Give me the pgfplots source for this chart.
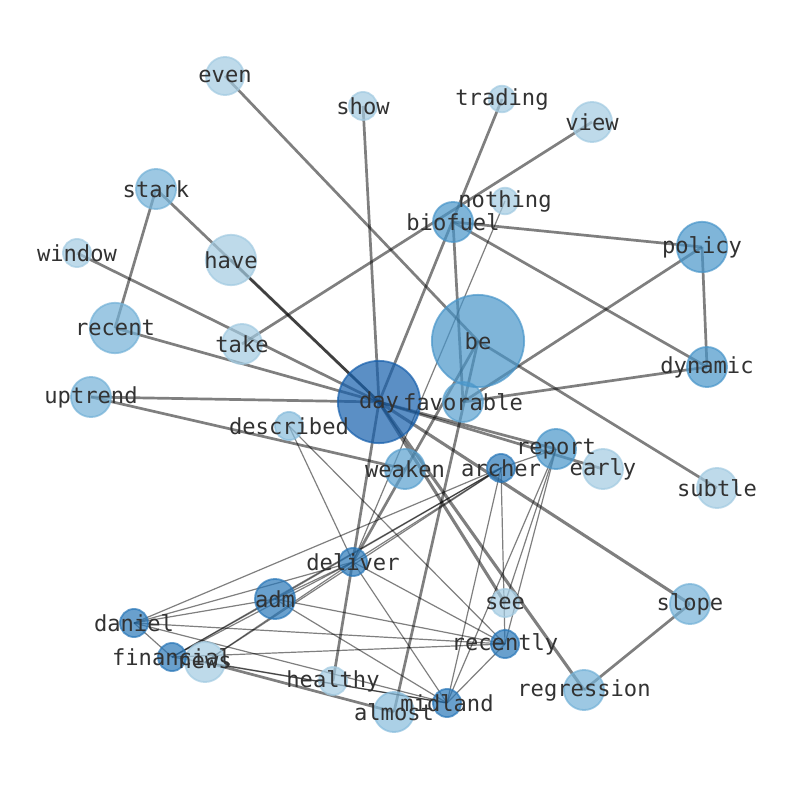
\documentclass[border=0pt]{standalone}
\usepackage{pgfplots}
\pgfplotsset{compat=1.18}
\usepackage{pgfplotstable}
\usepackage{fontspec}
\newfontfamily\lbfont{DejaVu Sans Mono}
\definecolor{lblgray}{RGB}{50,50,50}
\definecolor{gA}{RGB}{162,202,225}
\definecolor{gB}{RGB}{135,188,220}
\definecolor{gC}{RGB}{115,177,215}
\definecolor{gD}{RGB}{88,159,206}
\definecolor{gE}{RGB}{72,149,201}
\definecolor{gF}{RGB}{41,119,184}
\definecolor{gG}{RGB}{22,95,172}

% node positions in pixels (y grows downwards); one table per colour and size
\pgfplotstableread{
name x y
even 225 76
}\nAa
\pgfplotstableread{
name x y
show 363 106
window 77 253
see 505 603
healthy 333 681
}\nAb
\pgfplotstableread{
name x y
trading 502 99
nothing 505 201
}\nAc
\pgfplotstableread{
name x y
view 592 122
take 242 344
early 603 469
subtle 717 488
news 205 662
}\nAd
\pgfplotstableread{
name x y
have 231 260
}\nAe
\pgfplotstableread{
name x y
described 289 426
}\nBa
\pgfplotstableread{
name x y
almost 394 712
}\nBb
\pgfplotstableread{
name x y
stark 156 189
uptrend 91 397
slope 690 604
regression 584 690
}\nCa
\pgfplotstableread{
name x y
recent 115 328
}\nCb
\pgfplotstableread{
name x y
favorable 463 402
weaken 405 469
}\nDa
\pgfplotstableread{
name x y
biofuel 453 222
dynamic 707 367
report 556 449
}\nEa
\pgfplotstableread{
name x y
policy 702 247
}\nEb
\pgfplotstableread{
name x y
be 478 341
}\nEc
\pgfplotstableread{
name x y
archer 501 468
deliver 353 562
daniel 134 623
recently 505 644
financial 172 657
midland 447 703
}\nFa
\pgfplotstableread{
name x y
adm 275 599
}\nFb
\pgfplotstableread{
name x y
day 379 402
}\nGa

\begin{document}
\begin{tikzpicture}
\begin{axis}[
    scale only axis,
    width=794bp, height=790bp,
    xmin=0, xmax=794, ymin=0, ymax=790,
    y dir=reverse,
    hide axis,
    clip=false,
    edge/.style={black, draw opacity=0.5, line width=2.7bp, no markers, forget plot},
    thin edge/.style={black, draw opacity=0.5, line width=1.2bp, no markers, forget plot},
    node dots/.style 2 args={only marks, mark=*, forget plot, mark size=#2,
        mark options={draw=#1, fill=#1, fill opacity=0.7, draw opacity=0.7, line width=1.8bp}},
    node labels/.style={only marks, mark=none, forget plot,
        point meta=explicit symbolic, nodes near coords,
        every node near coord/.append style={anchor=center, inner sep=0pt, text=lblgray,
            font=\lbfont\fontsize{22.2}{24}\selectfont}},
]
\path (axis cs:0,0) rectangle (axis cs:794,790);

% thin edges
\addplot[thin edge] coordinates {(501,468) (353,562)};
\addplot[thin edge] coordinates {(501,468) (275,599)};
\addplot[thin edge] coordinates {(501,468) (134,623)};
\addplot[thin edge] coordinates {(501,468) (172,657)};
\addplot[thin edge] coordinates {(501,468) (505,644)};
\addplot[thin edge] coordinates {(501,468) (447,703)};
\addplot[thin edge] coordinates {(353,562) (275,599)};
\addplot[thin edge] coordinates {(353,562) (134,623)};
\addplot[thin edge] coordinates {(353,562) (172,657)};
\addplot[thin edge] coordinates {(353,562) (505,644)};
\addplot[thin edge] coordinates {(353,562) (447,703)};
\addplot[thin edge] coordinates {(275,599) (134,623)};
\addplot[thin edge] coordinates {(275,599) (172,657)};
\addplot[thin edge] coordinates {(275,599) (505,644)};
\addplot[thin edge] coordinates {(275,599) (447,703)};
\addplot[thin edge] coordinates {(134,623) (172,657)};
\addplot[thin edge] coordinates {(134,623) (505,644)};
\addplot[thin edge] coordinates {(134,623) (447,703)};
\addplot[thin edge] coordinates {(172,657) (505,644)};
\addplot[thin edge] coordinates {(172,657) (447,703)};
\addplot[thin edge] coordinates {(505,644) (447,703)};
\addplot[thin edge] coordinates {(289,426) (353,562)};
\addplot[thin edge] coordinates {(289,426) (505,644)};
\addplot[thin edge] coordinates {(505,201) (353,562)};
\addplot[thin edge] coordinates {(556,449) (501,468)};
\addplot[thin edge] coordinates {(556,449) (505,603)};
\addplot[thin edge] coordinates {(556,449) (505,644)};
\addplot[thin edge] coordinates {(556,449) (447,703)};
\addplot[thin edge] coordinates {(205,662) (501,468)};
\addplot[thin edge] coordinates {(205,662) (353,562)};
\addplot[thin edge] coordinates {(205,662) (447,703)};

% thick edges
\addplot[edge] coordinates {(225,76) (478,341)};
\addplot[edge] coordinates {(478,341) (717,488)};
\addplot[edge] coordinates {(363,106) (379,402)};
\addplot[edge] coordinates {(502,99) (379,402)};
\addplot[edge] coordinates {(592,122) (242,344)};
\addplot[edge] coordinates {(156,189) (379,402)};
\addplot[edge] coordinates {(231,260) (379,402)};
\addplot[edge] coordinates {(156,189) (115,328)};
\addplot[edge] coordinates {(77,253) (379,402)};
\addplot[edge] coordinates {(115,328) (379,402)};
\addplot[edge] coordinates {(91,397) (379,402)};
\addplot[edge] coordinates {(91,397) (405,469)};
\addplot[edge] coordinates {(453,222) (702,247)};
\addplot[edge] coordinates {(453,222) (707,367)};
\addplot[edge] coordinates {(453,222) (463,402)};
\addplot[edge] coordinates {(702,247) (707,367)};
\addplot[edge] coordinates {(702,247) (463,402)};
\addplot[edge] coordinates {(707,367) (463,402)};
\addplot[edge] coordinates {(478,341) (353,562)};
\addplot[edge] coordinates {(478,341) (394,712)};
\addplot[edge] coordinates {(379,402) (333,681)};
\addplot[edge] coordinates {(379,402) (603,469)};
\addplot[edge] coordinates {(379,402) (556,449)};
\addplot[edge, line width=3.1bp] coordinates {(379,402) (690,604)};
\addplot[edge, line width=3.1bp] coordinates {(379,402) (505,603)};
\addplot[edge, line width=3.1bp] coordinates {(379,402) (584,690)};
\addplot[edge] coordinates {(690,604) (584,690)};
\addplot[edge] coordinates {(205,662) (394,712)};

% nodes (mark size = radius in px)
\addplot[node dots={gA}{19.1}] table[x=x, y=y] {\nAa};
\addplot[node dots={gA}{14.1}] table[x=x, y=y] {\nAb};
\addplot[node dots={gA}{13.3}] table[x=x, y=y] {\nAc};
\addplot[node dots={gA}{20.1}] table[x=x, y=y] {\nAd};
\addplot[node dots={gA}{25.3}] table[x=x, y=y] {\nAe};
\addplot[node dots={gB}{14.1}] table[x=x, y=y] {\nBa};
\addplot[node dots={gB}{20.1}] table[x=x, y=y] {\nBb};
\addplot[node dots={gC}{20.1}] table[x=x, y=y] {\nCa};
\addplot[node dots={gC}{25.3}] table[x=x, y=y] {\nCb};
\addplot[node dots={gD}{20.1}] table[x=x, y=y] {\nDa};
\addplot[node dots={gE}{20.1}] table[x=x, y=y] {\nEa};
\addplot[node dots={gE}{25.3}] table[x=x, y=y] {\nEb};
\addplot[node dots={gE}{46.3}] table[x=x, y=y] {\nEc};
\addplot[node dots={gF}{14.1}] table[x=x, y=y] {\nFa};
\addplot[node dots={gF}{20.1}] table[x=x, y=y] {\nFb};
\addplot[node dots={gG}{41.3}] table[x=x, y=y] {\nGa};

% labels
\addplot[node labels] table[x=x, y=y, meta=name] {\nAa};
\addplot[node labels] table[x=x, y=y, meta=name] {\nAb};
\addplot[node labels] table[x=x, y=y, meta=name] {\nAc};
\addplot[node labels] table[x=x, y=y, meta=name] {\nAd};
\addplot[node labels] table[x=x, y=y, meta=name] {\nAe};
\addplot[node labels] table[x=x, y=y, meta=name] {\nBa};
\addplot[node labels] table[x=x, y=y, meta=name] {\nBb};
\addplot[node labels] table[x=x, y=y, meta=name] {\nCa};
\addplot[node labels] table[x=x, y=y, meta=name] {\nCb};
\addplot[node labels] table[x=x, y=y, meta=name] {\nDa};
\addplot[node labels] table[x=x, y=y, meta=name] {\nEa};
\addplot[node labels] table[x=x, y=y, meta=name] {\nEb};
\addplot[node labels] table[x=x, y=y, meta=name] {\nEc};
\addplot[node labels] table[x=x, y=y, meta=name] {\nFa};
\addplot[node labels] table[x=x, y=y, meta=name] {\nFb};
\addplot[node labels] table[x=x, y=y, meta=name] {\nGa};
\end{axis}
\end{tikzpicture}
\end{document}
